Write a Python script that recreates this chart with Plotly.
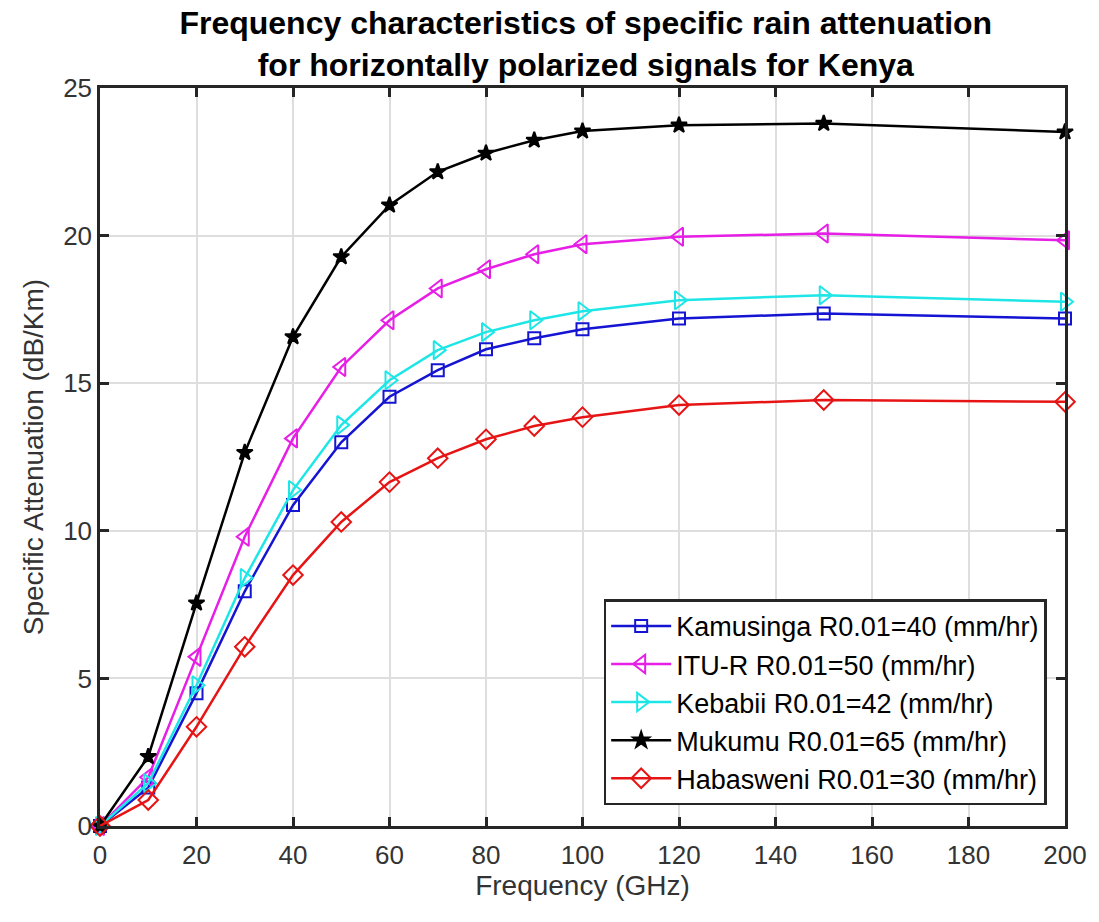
import plotly.graph_objects as go

freq = [0, 10, 20, 30, 40, 50, 60, 70, 80, 90, 100, 120, 150, 200]

kamusinga = [0, 1.3, 4.5, 7.95, 10.87, 13.0, 14.54, 15.44, 16.15, 16.52, 16.83, 17.19, 17.36, 17.19]
itur = [0, 1.65, 5.73, 9.8, 13.13, 15.55, 17.13, 18.21, 18.86, 19.37, 19.71, 19.96, 20.07, 19.84]
kebabii = [0, 1.45, 4.77, 8.4, 11.38, 13.58, 15.1, 16.12, 16.73, 17.13, 17.44, 17.81, 17.98, 17.76]
mukumu = [0, 2.35, 7.55, 12.65, 16.57, 19.28, 21.03, 22.16, 22.79, 23.23, 23.54, 23.74, 23.8, 23.51]
habasweni = [0, 0.88, 3.36, 6.07, 8.5, 10.3, 11.65, 12.46, 13.1, 13.55, 13.85, 14.26, 14.43, 14.37]

names = [
    "Kamusinga R0.01=40 (mm/hr)",
    "ITU-R R0.01=50 (mm/hr)",
    "Kebabii R0.01=42 (mm/hr)",
    "Mukumu R0.01=65 (mm/hr)",
    "Habasweni R0.01=30 (mm/hr)",
]
series = [kamusinga, itur, kebabii, mukumu, habasweni]
colors = ["#1414d2", "#e61ee6", "#1ee6e6", "#000000", "#e61414"]
symbols = ["square-open", "triangle-left-open", "triangle-right-open", "star", "diamond-open"]
sizes = [12, 16, 16, 12, 15]

FONT = "Liberation Sans, Arial, Helvetica, sans-serif"

fig = go.Figure()
for n, s, c, sym, sz in zip(names, series, colors, symbols, sizes):
    fig.add_trace(go.Scatter(
        x=freq, y=s, name=n, mode="lines+markers",
        line=dict(color=c, width=2.5),
        marker=dict(symbol=sym, size=sz, color=c, line=dict(color=c, width=2)),
        cliponaxis=False,
    ))

axis_common = dict(
    showline=True, linecolor="#262626", linewidth=2.5, mirror="ticks",
    ticks="inside", ticklen=9, tickwidth=2.5, tickcolor="#262626",
    showgrid=True, gridcolor="#dedede", gridwidth=1.5,
    zeroline=False,
    tickfont=dict(family=FONT, size=26, color="#333333"),
)

fig.update_layout(
    width=1099, height=922,
    margin=dict(l=100, r=30, t=88, b=96),
    paper_bgcolor="white", plot_bgcolor="white",
    title=dict(
        text="Frequency characteristics of specific rain attenuation<br>for horizontally polarized signals for Kenya",
        x=0.533, xanchor="center", yref="container", y=1 - 34 / 922, yanchor="middle",
        font=dict(family=FONT, size=32, color="#000000", weight="bold"),
    ),
    xaxis=dict(range=[0, 200], dtick=20, ticklabelstandoff=4,
               title=dict(text="Frequency (GHz)", standoff=6,
                          font=dict(family=FONT, size=28, color="#333333")),
               **axis_common),
    yaxis=dict(range=[0, 25], dtick=5,
               title=dict(text="Specific Attenuation (dB/Km)", standoff=12,
                          font=dict(family=FONT, size=28, color="#333333")),
               **axis_common),
    legend=dict(
        x=0.981, xanchor="right", y=0.028, yanchor="bottom",
        bgcolor="white", bordercolor="#262626", borderwidth=2.5,
        font=dict(family=FONT, size=27, color="#000000"),
        tracegroupgap=0, itemwidth=60,
    ),
)

fig.write_html("out.html")
